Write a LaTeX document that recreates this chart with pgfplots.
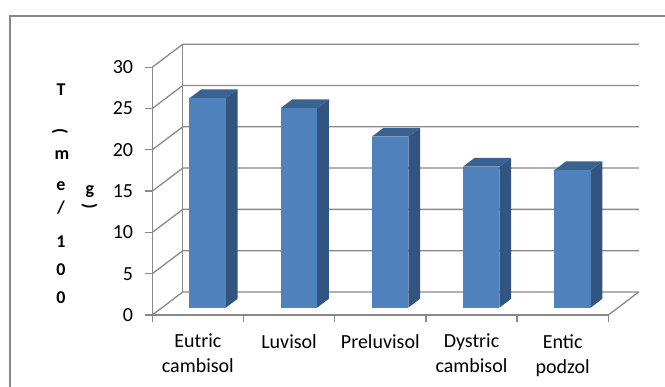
\documentclass[border=0pt]{standalone}
\usepackage{fontspec}
\setmainfont{Carlito}
\usepackage{graphicx}
\usepackage{pgfplots}
\usepackage{pgfplotstable}
\pgfplotsset{compat=1.18}
\definecolor{gridgray}{HTML}{898989}
\definecolor{frontblue}{HTML}{4F81BD}
\definecolor{sideblue}{HTML}{325481}
\definecolor{topblue}{HTML}{3A6291}

% cation exchange capacity T (me/100 g) per soil type
\pgfplotstableread{
idx v
0 25.35
1 24.14
2 20.7
3 17.07
4 16.63
}\datatable

\begin{document}
\begin{tikzpicture}
\useasboundingbox (0,0) rectangle (665pt,387pt);
\draw[gridgray, line width=1.3pt] (10pt,0) -- (10pt,371pt) -- (665pt,371pt);

\begin{axis}[
  at={(152.3pt,72pt)}, anchor=south west,
  scale only axis, width=456pt, height=247.8pt,
  xmin=0, xmax=5, ymin=0, ymax=30,
  clip=false,
  axis x line*=bottom, axis y line*=left,
  axis line style={-, draw=gridgray, line width=1.3pt},
  tick align=outside,
  major tick length=7pt,
  tick style={draw=gridgray, line width=1.3pt},
  ytick={0,5,...,30},
  xtick={0,1,2,3,4,5},
  xticklabels={},
  extra x ticks={0.5,1.5,2.5,3.5,4.5},
  extra x tick labels={{Eutric\\cambisol},{Luvisol},{Preluvisol},{Dystric\\cambisol},{Entic\\podzol}},
  extra x tick style={major tick length=0pt,
    xticklabel style={align=center, anchor=north, inner sep=0pt, yshift=-19pt,
      font=\fontsize{20}{25}\selectfont}},
  yticklabel style={anchor=east, inner sep=0pt, xshift=-12pt, font=\fontsize{20}{24}\selectfont},
  /pgf/number format/assume math mode=true,
  no markers,
]
% walls (3D frame)
\pgfplotsinvokeforeach{0,5,...,30}{
  \draw[gridgray, line width=1.3pt] (axis cs:0,#1) -- (axis cs:0.3344,{#1+2.785}) -- (axis cs:5.3344,{#1+2.785});
}
\draw[gridgray, line width=1.3pt] (axis cs:0.3344,2.785) -- (axis cs:0.3344,32.785);
\draw[gridgray, line width=1.3pt] (axis cs:5,0) -- (axis cs:5.3344,2.785);

% bars
\pgfplotsinvokeforeach{0,...,4}{
  \pgfplotstablegetelem{#1}{v}\of\datatable
  \pgfmathsetmacro\xl{#1+0.407}
  \pgfmathsetmacro\xr{#1+0.807}
  \pgfmathsetmacro\xrr{#1+0.807+0.1287}
  \pgfmathsetmacro\xll{#1+0.407+0.1287}
  \pgfmathsetmacro\yb{0.891}
  \pgfmathsetmacro\ybb{0.891+1.072}
  \pgfmathsetmacro\yt{\pgfplotsretval+0.891}
  \pgfmathsetmacro\ytt{\pgfplotsretval+0.891+1.072}
  \edef\barcmd{%
    \noexpand\addplot[fill=sideblue, draw=none, forget plot] coordinates {(\xr,\yb) (\xrr,\ybb) (\xrr,\ytt) (\xr,\yt)} -- cycle;
    \noexpand\addplot[fill=topblue, draw=none, forget plot] coordinates {(\xl,\yt) (\xr,\yt) (\xrr,\ytt) (\xll,\ytt)} -- cycle;
    \noexpand\addplot[fill=frontblue, draw=none, forget plot] coordinates {(\xl,\yb) (\xr,\yb) (\xr,\yt) (\xl,\yt)} -- cycle;
  }%
  \barcmd
}
\end{axis}

% stacked y-axis title "T (me/100 g)"
\begin{scope}[every node/.style={font=\fontsize{18}{21}\selectfont\bfseries, inner sep=0pt}]
\node[anchor=base] at (61pt,291.3pt) {T};
\node[anchor=center] at (60pt,255.7pt) {\rotatebox{-90}{(}};
\node[anchor=base] at (62pt,227.7pt) {m};
\node[anchor=base] at (61pt,196.3pt) {e};
\node[anchor=base] at (61pt,173pt) {/};
\node[anchor=base] at (61pt,139.7pt) {1};
\node[anchor=base] at (61pt,111pt) {0};
\node[anchor=base] at (61pt,83pt) {0};
\node[anchor=base] at (90pt,192pt) {g};
\node[anchor=center] at (89.5pt,180.5pt) {\rotatebox{-90}{)}};
\end{scope}
\end{tikzpicture}
\end{document}
